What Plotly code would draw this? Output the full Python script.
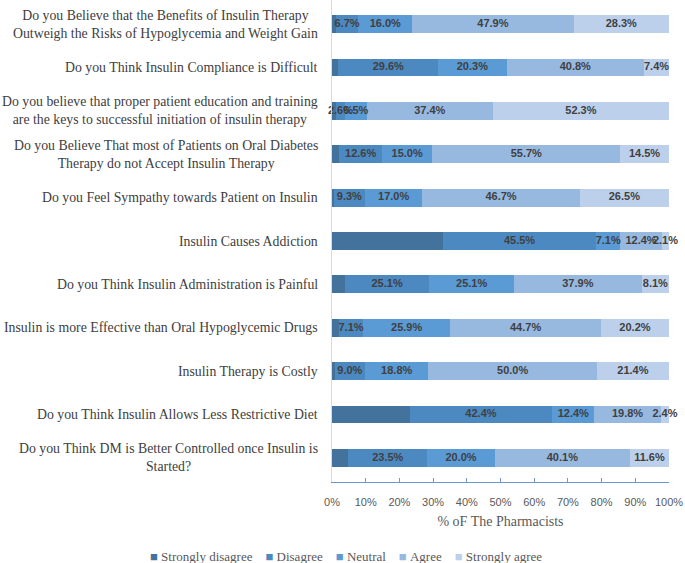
import plotly.graph_objects as go

categories = [
    "Do you Believe that the Benefits of Insulin Therapy<br>Outweigh the Risks of Hypoglycemia and Weight Gain",
    "Do you Think Insulin Compliance is Difficult",
    "Do you believe that proper patient education and training<br>are the keys to successful initiation of insulin therapy",
    "Do you Believe That most of Patients on Oral Diabetes<br>Therapy do not Accept Insulin Therapy",
    "Do you Feel Sympathy towards Patient on Insulin",
    "Insulin Causes Addiction",
    "Do you Think Insulin Administration is Painful",
    "Insulin is more Effective than Oral Hypoglycemic Drugs",
    "Insulin Therapy is Costly",
    "Do you Think Insulin Allows Less Restrictive Diet",
    "Do you Think DM is Better Controlled once Insulin is<br>Started?",
]

strongly_disagree = [1.1, 1.9, 1.2, 2.2, 0.5, 32.9, 3.8, 2.1, 0.8, 23.0, 4.8]
disagree = [6.7, 29.6, 2.6, 12.6, 9.3, 45.5, 25.1, 7.1, 9.0, 42.4, 23.5]
neutral = [16.0, 20.3, 6.5, 15.0, 17.0, 7.1, 25.1, 25.9, 18.8, 12.4, 20.0]
agree = [47.9, 40.8, 37.4, 55.7, 46.7, 12.4, 37.9, 44.7, 50.0, 19.8, 40.1]
strongly_agree = [28.3, 7.4, 52.3, 14.5, 26.5, 2.1, 8.1, 20.2, 21.4, 2.4, 11.6]

series_names = ["Strongly disagree", "Disagree", "Neutral", "Agree", "Strongly agree"]
series_values = [strongly_disagree, disagree, neutral, agree, strongly_agree]
series_colors = ["#43729D", "#4C89C1", "#5A9AD5", "#97B9E0", "#BCD0EB"]
show_labels = [False, True, True, True, True]

tick_vals = [0, 10, 20, 30, 40, 50, 60, 70, 80, 90, 100]
tick_text = [f"{v}%" for v in tick_vals]

W, H = 685, 563
ML, MR, MT, MB = 332, 16, 0, 81

fig = go.Figure()
base = [0.0] * len(categories)
for name, vals, color, lab in zip(series_names, series_values, series_colors, show_labels):
    fig.add_trace(go.Bar(
        y=categories,
        x=vals,
        name=name,
        orientation="h",
        marker=dict(color=color, line=dict(width=0)),
        showlegend=False,
        hoverinfo="x+name",
    ))
    if lab:
        mids = [b + v / 2 for b, v in zip(base, vals)]
        fig.add_trace(go.Scatter(
            x=mids,
            y=categories,
            mode="text",
            text=[f"{v:.1f}%" for v in vals],
            textposition="middle center",
            textfont=dict(family="Liberation Sans", size=11, color="#404040", weight="bold"),
            cliponaxis=False,
            showlegend=False,
            hoverinfo="skip",
        ))
    base = [b + v for b, v in zip(base, vals)]

for cat in categories:
    fig.add_annotation(
        x=0, xref="paper", xanchor="right", xshift=-12,
        y=cat, yref="y", yanchor="middle",
        text=cat, showarrow=False, align="center",
        font=dict(family="Liberation Serif", size=13.8, color="#404040"),
    )

# legend drawn as one centred line of text with coloured squares
plot_w = W - ML - MR
plot_h = H - MT - MB
nb = "\u00a0"
legend_parts = [
    f"<span style='color:{c}'>\u25a0</span>{nb}{n}"
    for n, c in zip(series_names, series_colors)
]
fig.add_annotation(
    x=(346 - ML) / plot_w, xref="paper", xanchor="center",
    y=-(556 - plot_h) / plot_h, yref="paper", yanchor="middle",
    text=(nb * 4).join(legend_parts),
    showarrow=False,
    font=dict(family="Liberation Serif, serif", size=13, color="#595959"),
)

fig.update_layout(
    width=W, height=H,
    barmode="stack",
    bargap=0.59,
    plot_bgcolor="white",
    paper_bgcolor="white",
    margin=dict(l=ML, r=MR, t=MT, b=MB),
    showlegend=False,
    xaxis=dict(
        range=[0, 100],
        tickvals=tick_vals,
        ticktext=tick_text,
        ticks="inside",
        ticklen=4,
        tickcolor="#6E98D0",
        showline=True,
        linecolor="#6E98D0",
        linewidth=1,
        showgrid=False,
        zeroline=False,
        tickfont=dict(family="Liberation Sans", size=11, color="#595959"),
        ticklabelstandoff=10,
        title=dict(text="% oF The Pharmacists", standoff=8,
                   font=dict(family="Liberation Serif", size=14, color="#595959")),
    ),
    yaxis=dict(
        autorange="reversed",
        showticklabels=False,
        showline=True,
        linecolor="#D9D9D9",
        linewidth=1,
        ticks="",
        showgrid=False,
        zeroline=False,
    ),
)

fig.write_html("out.html", config={"displayModeBar": False},
               post_script="document.body.style.margin='0px';")
